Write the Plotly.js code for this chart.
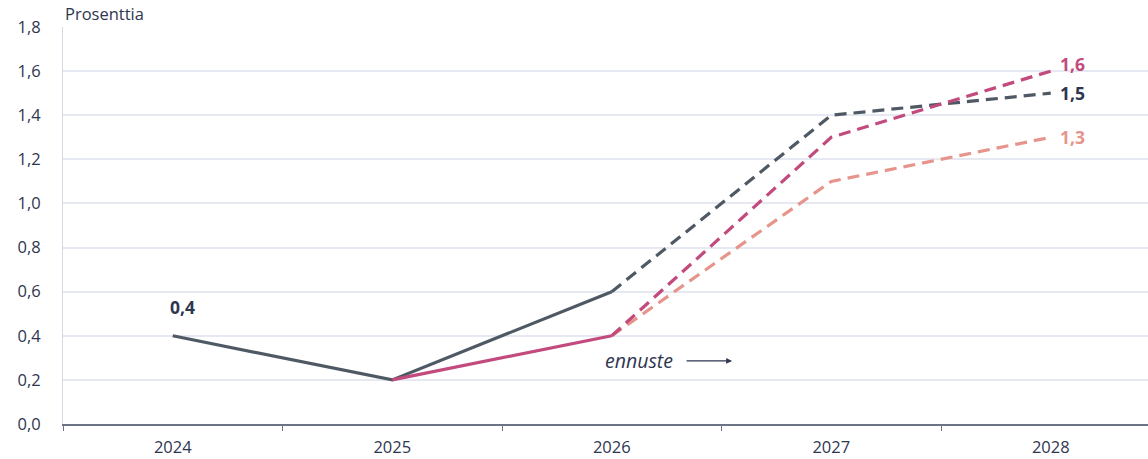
<!DOCTYPE html>
<html><head><meta charset="utf-8">
<script src="https://cdn.plot.ly/plotly-3.0.1.min.js"></script>
<style>html,body{margin:0;padding:0;background:#fff}#c{width:1148px;height:459px}</style>
</head><body><div id="c"></div>
<script>
const years = ['2024','2025','2026','2027','2028'];
const greyActual = [0.4, 0.2, 0.6, null, null];
const greyForecast = [null, null, 0.6, 1.4, 1.5];
const pinkActual = [null, 0.2, 0.4, null, null];
const pinkForecast = [null, null, 0.4, 1.3, 1.6];
const salmonForecast = [null, null, 0.4, 1.1, 1.3];
const yTicks = [0, 0.2, 0.4, 0.6, 0.8, 1.0, 1.2, 1.4, 1.6, 1.8];

const cGrey = '#4f5964', cPink = '#c24a7c', cSalmon = '#e6948c', cText = '#2e3650';

function line(y, color, dash) {
  return {x: years, y: y, type: 'scatter', mode: 'lines', connectgaps: false,
    line: {color: color, width: 3.2, dash: dash}, hoverinfo: 'skip', showlegend: false};
}
const traces = [
  line(salmonForecast, cSalmon, '12px,7px'),
  line(greyForecast, cGrey, '12px,7px'),
  line(greyActual, cGrey, 'solid'),
  line(pinkForecast, cPink, '12px,7px'),
  line(pinkActual, cPink, 'solid')
];

function fmt(v){ return v.toFixed(1).replace('.', ','); }

const annotations = [
  {xref:'paper', yref:'paper', x:0, y:1.0, xanchor:'left', yanchor:'bottom', text:'Prosenttia',
   showarrow:false, font:{size:16.5, color:cText}},
  {x:0, y:greyActual[0], xref:'x', yref:'y', text:'<b>'+fmt(greyActual[0])+'</b>', showarrow:false,
   xshift:10, yshift:29, font:{size:17.5, color:cText}},
  {x:4, y:pinkForecast[4], xref:'x', yref:'y', text:'<b>'+fmt(pinkForecast[4])+'</b>', showarrow:false,
   xanchor:'left', xshift:7, yshift:7, font:{size:17.5, color:cPink}},
  {x:4, y:greyForecast[4], xref:'x', yref:'y', text:'<b>'+fmt(greyForecast[4])+'</b>', showarrow:false,
   xanchor:'left', xshift:7, yshift:0, font:{size:17.5, color:cText}},
  {x:4, y:salmonForecast[4], xref:'x', yref:'y', text:'<b>'+fmt(salmonForecast[4])+'</b>', showarrow:false,
   xanchor:'left', xshift:7, yshift:0, font:{size:17.5, color:cSalmon}},
  {x:1.96, y:0.286, xref:'x', yref:'y', text:'<i>ennuste</i>', showarrow:false, xanchor:'left',
   font:{size:19.5, color:cText}},
  {x:2.548, y:0.286, ax:2.334, ay:0.286, xref:'x', yref:'y', axref:'x', ayref:'y', text:'', showarrow:true,
   arrowhead:2, arrowsize:0.9, arrowwidth:1.3, arrowcolor:cText}
];

const layout = {
  width:1148, height:459,
  margin:{l:63, r:0, t:27, b:35},
  paper_bgcolor:'#fff', plot_bgcolor:'#fff',
  separators:', ',
  font:{family:'"Open Sans", "Noto Sans", sans-serif', color:cText, size:17},
  xaxis:{type:'category', range:[-0.5, 4.443], tickson:'boundaries', ticks:'outside', ticklen:5,
    tickcolor:'#6b7385', showline:true, linecolor:'#6b7385', linewidth:2, showgrid:false,
    ticklabelstandoff:7, tickfont:{size:16.5, color:cText}, fixedrange:true},
  yaxis:{range:[0,1.8], tickvals:yTicks, ticktext:yTicks.map(fmt), showgrid:true, gridcolor:'#e6e9f2',
    gridwidth:2, zeroline:false, showline:true, linecolor:'#d5d9e3', linewidth:1, ticks:'', ticklabelstandoff:18,
    tickfont:{size:16.5, color:cText}, fixedrange:true},
  annotations: annotations
};
Plotly.newPlot('c', traces, layout, {displayModeBar:false, staticPlot:true});
</script></body></html>
